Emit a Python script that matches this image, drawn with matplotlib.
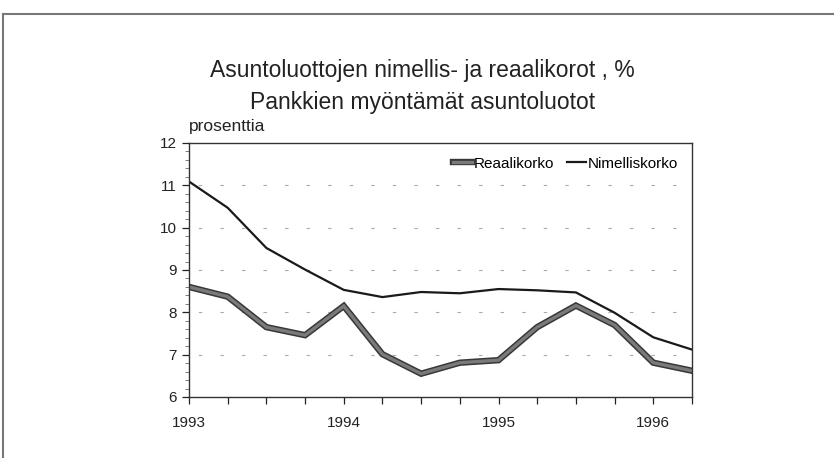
import numpy as np
import matplotlib
matplotlib.use("Agg")
import matplotlib.pyplot as plt
import matplotlib.patheffects as pe
from matplotlib.lines import Line2D

plt.rcParams['font.family'] = ['Liberation Sans', 'DejaVu Sans']

# neljannesvuodet 1993 Q1 - 1996 Q2
kvartaalit = [1993.0, 1993.25, 1993.5, 1993.75, 1994.0, 1994.25, 1994.5, 1994.75,
              1995.0, 1995.25, 1995.5, 1995.75, 1996.0, 1996.25]
reaalikorko = [8.60, 8.37, 7.65, 7.46, 8.15, 7.01, 6.55, 6.81, 6.87, 7.65, 8.16, 7.70, 6.81, 6.62]
nimelliskorko = [11.09, 10.47, 9.52, 9.01, 8.53, 8.36, 8.48, 8.45, 8.55, 8.52, 8.47, 7.99, 7.41, 7.12]
vuodet = [1993, 1994, 1995, 1996]
y_tikit = [6, 7, 8, 9, 10, 11, 12]

fig = plt.figure(figsize=(8.34, 4.58), dpi=100)
ax = fig.add_axes([0.2266, 0.1332, 0.6031, 0.5546])

# kuvan kehys (vain ylä- ja vasen reuna)
fig.add_artist(Line2D([0.004, 1.0], [0.970, 0.970], transform=fig.transFigure, color='#777777', lw=1.5))
fig.add_artist(Line2D([0.004, 0.004], [0.0, 0.970], transform=fig.transFigure, color='#777777', lw=1.5))

ax.plot(kvartaalit, reaalikorko, color='#7a7a7a', lw=2.4, solid_joinstyle='miter',
        label='Reaalikorko',
        path_effects=[pe.Stroke(linewidth=4.6, foreground='#383838'), pe.Normal()])
ax.plot(kvartaalit, nimelliskorko, color='#1a1a1a', lw=1.6, label='Nimelliskorko')

ax.set_xlim(1993, 1996.25)
ax.set_ylim(6, 12)
ax.set_xticks(vuodet)
ax.set_xticks(kvartaalit, minor=True)
ax.set_yticks(y_tikit)
ax.set_yticks(np.arange(6, 12.01, 0.2), minor=True)
ax.tick_params(axis='both', which='major', direction='out', length=5, width=0.9,
               labelsize=11, colors='#222222', pad=4)
ax.tick_params(axis='x', which='major', pad=8.5)
ax.tick_params(axis='x', which='minor', direction='out', length=5, width=0.9, color='#222222')
ax.tick_params(axis='y', which='minor', direction='out', length=3, width=0.6, color='#666666')

for s in ax.spines.values():
    s.set_color('#333333')
    s.set_linewidth(1.0)

for v in y_tikit[1:-1]:
    ax.axhline(v, color='#aaaaaa', lw=0.8, linestyle=(11, (3.1, 16.3)), zorder=0)

ax.legend(loc='upper right', ncol=2, frameon=False, fontsize=11, handlelength=1.3,
          handletextpad=0.1, columnspacing=0.8, borderaxespad=0.5,
          bbox_to_anchor=(1.0, 1.0))

ax.text(0.0, 1.035, 'prosenttia', transform=ax.transAxes, fontsize=12.5,
        color='#222222', ha='left', va='bottom')

fig.text(0.507, 0.845, 'Asuntoluottojen nimellis- ja reaalikorot , %', ha='center', va='center',
         fontsize=16.5, color='#222222')
fig.text(0.507, 0.777, 'Pankkien myöntämät asuntoluotot', ha='center', va='center',
         fontsize=16.5, color='#222222')

fig.savefig('out.png', dpi=100)
